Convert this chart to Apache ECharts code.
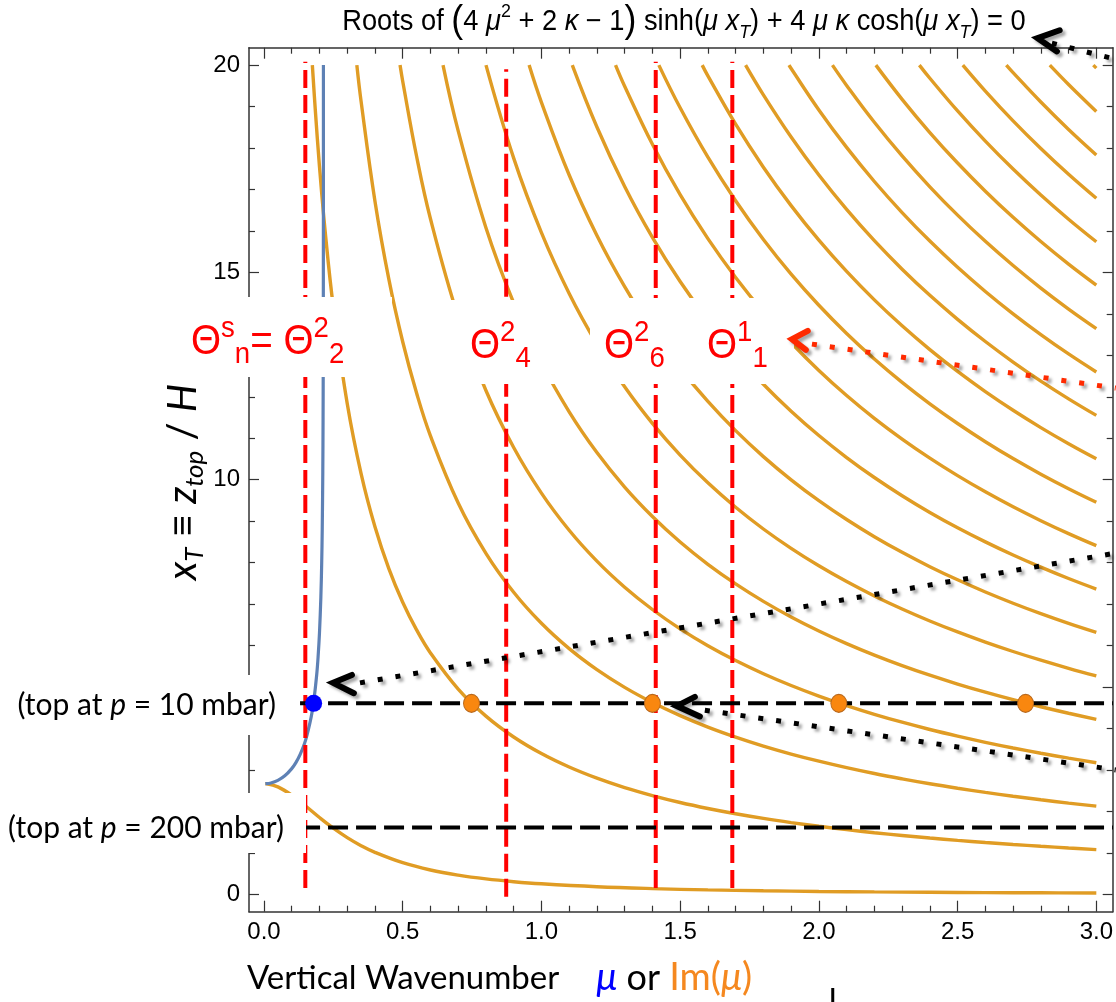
<!DOCTYPE html>
<html><head><meta charset="utf-8">
<script src="https://cdn.jsdelivr.net/npm/echarts@6/dist/echarts.min.js"></script>
<style>html,body{margin:0;padding:0;background:#fff}#c{width:1116px;height:1002px}</style>
</head><body><div id="c"></div>
<script>
// ---------------- data ----------------
// x axis: vertical wavenumber mu (or Im(mu)); y axis: x_T = z_top / H
const xMajorTicks = [0, 0.5, 1, 1.5, 2, 2.5, 3];
const xMinorTicks = [0.1,0.2,0.3,0.4,0.6,0.7,0.8,0.9,1.1,1.2,1.3,1.4,1.6,1.7,1.8,1.9,2.1,2.2,2.3,2.4,2.6,2.7,2.8,2.9];
const yMajorTicks = [0, 5, 10, 15, 20];
const yMinorTicks = [1,2,3,4,6,7,8,9,11,12,13,14,16,17,18,19];

// lowest orange branch (n = 0)
const branch0Mu = [0.005,0.01,0.05,0.1,0.15,0.2,0.25,0.3,0.35,0.4,0.5,0.6,0.7,0.8,0.9,1.0,1.2,1.4,1.6,1.8,2.0,2.2,2.4,2.6,2.8,3.0];
const branch0X  = [2.666,2.664,2.591,2.392,2.129,1.852,1.594,1.367,1.173,1.011,0.761,0.586,0.462,0.371,0.304,0.253,0.182,0.137,0.106,0.085,0.069,0.057,0.048,0.041,0.036,0.031];

// common mu grid for the upper orange branches; each branch lists x_T at the last k grid points
const gridMu = [0.185,0.2,0.22,0.25,0.3,0.35,0.4,0.45,0.5,0.55,0.6,0.7,0.8,0.9,1.0,1.1,1.2,1.3,1.4,1.5,1.6,1.7,1.8,1.9,2.0,2.1,2.2,2.3,2.4,2.5,2.6,2.7,2.8,2.9,3.0];
// where each branch enters the top of the plot (x_T = 20)
const branchTopMu = [0.1743,0.3347,0.4904,0.6453,0.8002,0.9556,1.1112,1.2671,1.4232,1.5794,1.7358,1.8923,2.0488,2.2054,2.3621,2.5188,2.6756,2.8324,2.9892];
const branch1  = [18.916,17.560,16.026,14.160,11.839,10.149,8.865,7.856,7.044,6.378,5.822,4.950,4.298,3.794,3.394,3.069,2.800,2.573,2.381,2.214,2.070,1.943,1.830,1.730,1.640,1.559,1.485,1.419,1.357,1.301,1.250,1.202,1.158,1.117,1.078];
const branch2  = [19.125,16.719,14.837,13.327,12.090,11.058,9.438,8.225,7.285,6.536,5.925,5.418,4.990,4.625,4.309,4.033,3.791,3.575,3.383,3.211,3.055,2.913,2.785,2.666,2.558,2.458,2.366,2.280,2.200,2.126];
const branch3  = [19.611,17.802,16.294,13.926,12.152,10.776,9.677,8.781,8.036,7.407,6.869,6.403,5.997,5.639,5.321,5.037,4.782,4.551,4.341,4.150,3.975,3.815,3.666,3.529,3.402,3.283,3.173];
const branch4  = [18.414,16.079,14.266,12.819,11.637,10.654,9.823,9.113,8.497,7.960,7.487,7.066,6.690,6.352,6.047,5.769,5.516,5.284,5.071,4.875,4.693,4.524,4.367,4.220];
const branch5  = [17.757,15.961,14.493,13.272,12.240,11.357,10.592,9.924,9.335,8.811,8.344,7.923,7.543,7.197,6.882,6.593,6.328,6.083,5.856,5.646,5.450,5.267];
const branch6  = [19.102,17.349,15.890,14.656,13.601,12.686,11.887,11.183,10.557,9.997,9.494,9.039,8.625,8.248,7.902,7.585,7.291,7.020,6.768,6.533,6.315];
const branch7  = [18.508,17.073,15.845,14.781,13.851,13.031,12.302,11.651,11.065,10.535,10.053,9.614,9.211,8.841,8.500,8.183,7.890,7.616,7.362];
const branch8  = [19.490,18.089,16.875,15.814,14.879,14.047,13.304,12.636,12.031,11.481,10.980,10.520,10.098,9.708,9.347,9.012,8.700,8.409];
const branch9  = [18.970,17.778,16.727,15.793,14.958,14.207,13.527,12.909,12.346,11.829,11.355,10.916,10.510,10.134,9.783,9.456];
const branch10 = [19.741,18.575,17.538,16.611,15.777,15.023,14.337,13.712,13.138,12.611,12.125,11.674,11.256,10.866,10.503];
const branch11 = [19.283,18.265,17.348,16.519,15.765,15.078,14.447,13.868,13.333,12.838,12.378,11.950,11.551];
const branch12 = [19.918,18.919,18.015,17.193,16.444,15.756,15.124,14.541,14.001,13.500,13.033,12.598];
const branch13 = [19.511,18.621,17.810,17.065,16.381,15.749,15.165,14.622,14.116,13.645];
const branch14 = [19.175,18.374,17.638,16.958,16.328,15.744,15.199,14.692];
const branch15 = [19.683,18.894,18.166,17.492,16.866,16.283,15.739];
const branch16 = [19.374,18.655,17.988,17.366,16.787];
const branch17 = [19.819,19.110,18.449,17.834];
const branch18 = [19.533,18.881];
const branch19 = [19.928];
const upperBranches = [branch1,branch2,branch3,branch4,branch5,branch6,branch7,branch8,branch9,branch10,
  branch11,branch12,branch13,branch14,branch15,branch16,branch17,branch18,branch19];

// blue branch (real mu)
const blueMu = [0.005,0.025,0.05,0.075,0.1,0.115,0.13,0.15,0.17,0.18,0.19,0.195,0.2,0.205,0.208,0.21,0.212,0.213,0.2135,0.214,0.2142,0.21425];
const blueX  = [2.667,2.686,2.748,2.857,3.031,3.176,3.366,3.719,4.272,4.691,5.295,5.722,6.300,7.168,7.985,8.809,10.197,11.494,12.617,14.948,17.888,20.0];

// model tops (x_T for p = 10 mbar and p = 200 mbar)
const topLevels = [4.605, 1.609];
const topLineMu = [0.13, 3.06];
// marked roots on the 10 mbar line
const blueRoot = [[0.179, 4.605]];
const orangeRoots = [[0.748, 4.605], [1.400, 4.605], [2.072, 4.605], [2.745, 4.605]];
// red dashed verticals: mu, bottom, top
const redMu = [0.149, 0.873, 1.412, 1.688];
const redBottom = [0.15, -0.06, 0.15, 0.15];
const redTop = [20.08, 19.9, 20.08, 20.08];

// annotation arrows (data coordinates): dotted shaft + arrowhead [arm, tip, arm]
const arrowShafts = [
  [[2.840, 20.53], [3.070, 20.14]],
  [[1.975, 13.27], [3.070, 12.21]],
  [[0.346, 5.10], [3.070, 8.23]],
  [[1.589, 4.44], [3.070, 3.00]]
];
const arrowHeads = [
  [[2.868, 20.84], [2.788, 20.65], [2.858, 20.33]],
  [[1.960, 13.59], [1.903, 13.39], [1.953, 13.13]],
  [[0.317, 5.29], [0.249, 5.10], [0.324, 4.85]],
  [[1.553, 4.76], [1.488, 4.54], [1.571, 4.29]]
];
const arrowColors = ['#000', '#ff2a00', '#000', '#000'];
const stubMark = [[2.050, -2.26], [2.050, -2.62]];

// ---------------- chart ----------------
const ORANGE = '#E09C24', BLUE = '#5E81B5', AX = '#333';
const X_MIN = -0.054, X_MAX = 3.059, Y_MIN = -0.42, Y_MAX = 20.42;
const tickFont = {fontFamily: 'Liberation Sans', fontSize: 24, color: '#000'};

function xAx(pos, vals, len, line, labels) {
  return {type: 'value', position: pos, min: X_MIN, max: X_MAX,
    axisLine: {show: line, onZero: false, lineStyle: {color: AX, width: 1.5}},
    axisTick: {show: true, inside: true, length: len, customValues: vals, lineStyle: {color: AX, width: 1.2}},
    axisLabel: labels ? Object.assign({show: true, customValues: vals, margin: 9, formatter: v => v.toFixed(1)}, tickFont) : {show: false},
    splitLine: {show: false}};
}
function yAx(pos, vals, len, line, labels) {
  return {type: 'value', position: pos, min: Y_MIN, max: Y_MAX,
    axisLine: {show: line, onZero: false, lineStyle: {color: AX, width: 1.5}},
    axisTick: {show: true, inside: true, length: len, customValues: vals, lineStyle: {color: AX, width: 1.2}},
    axisLabel: labels ? Object.assign({show: true, customValues: vals, margin: 9, formatter: v => String(v)}, tickFont) : {show: false},
    splitLine: {show: false}};
}

const series = [];
const baseLine = {type: 'line', symbol: 'none', showSymbol: false, silent: true, animation: false, xAxisIndex: 0, yAxisIndex: 0};
series.push(Object.assign({}, baseLine, {smooth: 0.4, z: 2,
  lineStyle: {color: ORANGE, width: 3.4}, data: branch0Mu.map((m, i) => [m, branch0X[i]])}));
upperBranches.forEach((vals, k) => {
  const off = gridMu.length - vals.length;
  const data = [[branchTopMu[k], 20]].concat(vals.map((v, i) => [gridMu[off + i], v]));
  series.push(Object.assign({}, baseLine, {smooth: 0.4, z: 2,
    lineStyle: {color: ORANGE, width: 3.4}, data}));
});
series.push(Object.assign({}, baseLine, {smooth: 0.3, z: 3,
  lineStyle: {color: BLUE, width: 3.2}, data: blueMu.map((m, i) => [m, blueX[i]])}));
redMu.forEach((m, i) => {
  series.push(Object.assign({}, baseLine, {z: 4,
    lineStyle: {color: '#ff0000', width: 4, type: [18, 7]}, data: [[m, redBottom[i]], [m, redTop[i]]]}));
});
topLevels.forEach(v => {
  series.push(Object.assign({}, baseLine, {z: 5,
    lineStyle: {color: '#000', width: 4, type: [20, 8]}, data: topLineMu.map(m => [m, v])}));
});
series.push({type: 'scatter', xAxisIndex: 0, yAxisIndex: 0, z: 6, silent: true, animation: false,
  symbol: 'circle', symbolSize: [16, 18], itemStyle: {color: '#F9870F', borderColor: '#B8691E', borderWidth: 1, opacity: 1},
  data: orangeRoots});
series.push({type: 'scatter', xAxisIndex: 0, yAxisIndex: 0, z: 6, silent: true, animation: false,
  symbol: 'circle', symbolSize: 17, itemStyle: {color: '#0000ff', opacity: 1}, data: blueRoot});
const shadow = {shadowColor: 'rgba(0,0,0,0.35)', shadowBlur: 3, shadowOffsetX: 3, shadowOffsetY: 3};
arrowShafts.forEach((d, i) => {
  series.push(Object.assign({}, baseLine, {z: 60, clip: false,
    lineStyle: Object.assign({color: arrowColors[i], width: 5, type: [5, 13], cap: 'butt'}, shadow), data: d}));
  series.push(Object.assign({}, baseLine, {z: 60, clip: false,
    lineStyle: Object.assign({color: arrowColors[i], width: 6, cap: 'round', join: 'miter'}, shadow), data: arrowHeads[i]}));
});
series.push(Object.assign({}, baseLine, {z: 60, clip: false,
  lineStyle: {color: '#000', width: 3}, data: stubMark}));

const RED = '#ff0000';
const GF = 'Liberation Sans';
const thetaRich = {
  b: {fontFamily: GF, fontSize: 42, fill: RED, lineHeight: 56, verticalAlign: 'middle'},
  sup: {fontFamily: GF, fontSize: 30, fill: RED, lineHeight: 46, verticalAlign: 'top'},
  sub: {fontFamily: GF, fontSize: 30, fill: RED, lineHeight: 18, verticalAlign: 'bottom'}
};
function thetaText(x, y, txt) {
  return {type: 'text', x, y, z: 55, silent: true, scaleX: 0.92,
    style: {text: txt, align: 'left', verticalAlign: 'middle', fill: RED, rich: thetaRich}};
}
function box(x, y, w, h) {
  return {type: 'rect', z: 50, silent: true, shape: {x, y, width: w, height: h}, style: {fill: '#fff'}};
}
const titleRich = {
  t: {fontFamily: GF, fontSize: 29, fill: '#000', lineHeight: 40, verticalAlign: 'middle'},
  i: {fontFamily: GF, fontSize: 29, fontStyle: 'italic', fill: '#000', lineHeight: 40, verticalAlign: 'middle'},
  p: {fontFamily: GF, fontSize: 38, fill: '#000', lineHeight: 40, verticalAlign: 'middle'},
  sup: {fontFamily: GF, fontSize: 19, fill: '#000', lineHeight: 26, verticalAlign: 'top'},
  sub: {fontFamily: GF, fontSize: 19, fontStyle: 'italic', fill: '#000', lineHeight: 18, verticalAlign: 'bottom'}
};
const labRich = {t: {fontFamily: 'Lato', fontSize: 30, fill: '#000'}, i: {fontFamily: 'Lato', fontSize: 30, fontStyle: 'italic', fill: '#000'}};
const graphic = [
  {type: 'text', x: 684, y: 22, z: 55, silent: true, scaleX: 0.94, style: {
    text: '{t|Roots of }{p|(}{t|4 }{i|μ}{sup|2}{t| + 2 }{i|κ}{t| − 1}{p|)}{t| sinh(}{i|μ x}{sub|T}{t|) + 4 }{i|μ κ}{t| cosh(}{i|μ x}{sub|T}{t|) = 0}',
    align: 'center', verticalAlign: 'middle', rich: titleRich}},
  {type: 'text', x: 183, y: 482, rotation: Math.PI / 2, z: 55, silent: true, style: {
    text: '{i|x}{sub|T}{t| ≡ }{i|z}{sub|top}{t| / }{i|H}', align: 'center', verticalAlign: 'middle',
    rich: {
      t: {fontFamily: 'Lato', fontSize: 40, fill: '#000', lineHeight: 50, verticalAlign: 'middle'},
      i: {fontFamily: 'Lato', fontSize: 40, fontStyle: 'italic', fill: '#000', lineHeight: 50, verticalAlign: 'middle'},
      sub: {fontFamily: 'Lato', fontSize: 26, fontStyle: 'italic', fill: '#000', lineHeight: 24, verticalAlign: 'bottom'}
    }}},
  {type: 'text', x: 247, y: 978, z: 55, silent: true, style: {
    text: '{t|Vertical Wavenumber}{mu|μ}{or| or }{im|Im(}{imi|μ}{im|)}', align: 'left', verticalAlign: 'middle',
    rich: {
      t: {fontFamily: 'Lato', fontSize: 33, fill: '#000'},
      or: {fontFamily: 'Lato', fontSize: 36, fill: '#000'},
      mu: {fontFamily: 'Lato', fontSize: 38, fontStyle: 'italic', fill: '#0000ff', padding: [0, 0, 0, 37]},
      im: {fontFamily: 'Lato', fontSize: 38, fill: '#F5881F'},
      imi: {fontFamily: 'Lato', fontSize: 38, fontStyle: 'italic', fill: '#F5881F'}
    }}},
  box(170, 297, 222, 80),
  box(428, 300, 140, 84),
  box(590, 298, 204, 86),
  box(0, 675, 298, 60),
  box(0, 793, 306, 60),
  thetaText(191, 342, '{b|Θ}{sup|s}{sub|n}{b|= Θ}{sup|2}{sub|2}'),
  thetaText(470, 346, '{b|Θ}{sup|2}{sub|4}'),
  thetaText(604, 346, '{b|Θ}{sup|2}{sub|6}'),
  thetaText(707, 346, '{b|Θ}{sup|1}{sub|1}'),
  {type: 'text', x: 276, y: 705, z: 55, silent: true, style: {
    text: '{t|(top at }{i|p}{t| = 10 mbar)}', align: 'right', verticalAlign: 'middle', rich: labRich}},
  {type: 'text', x: 284, y: 828, z: 55, silent: true, style: {
    text: '{t|(top at }{i|p}{t| = 200 mbar)}', align: 'right', verticalAlign: 'middle', rich: labRich}}
];

const chart = echarts.init(document.getElementById('c'), null, {renderer: 'canvas'});
chart.setOption({
  animation: false,
  backgroundColor: '#fff',
  grid: {left: 249, right: 3, top: 47.7, bottom: 90.3, containLabel: false},
  xAxis: [
    xAx('bottom', xMajorTicks, 11, true, true),
    xAx('bottom', xMinorTicks, 6, false, false),
    xAx('top', xMajorTicks, 11, true, false),
    xAx('top', xMinorTicks, 6, false, false)
  ],
  yAxis: [
    yAx('left', yMajorTicks, 10, true, true),
    yAx('left', yMinorTicks, 6, false, false),
    yAx('right', yMajorTicks, 10, true, false),
    yAx('right', yMinorTicks, 6, false, false)
  ],
  series,
  graphic
});
</script></body></html>
